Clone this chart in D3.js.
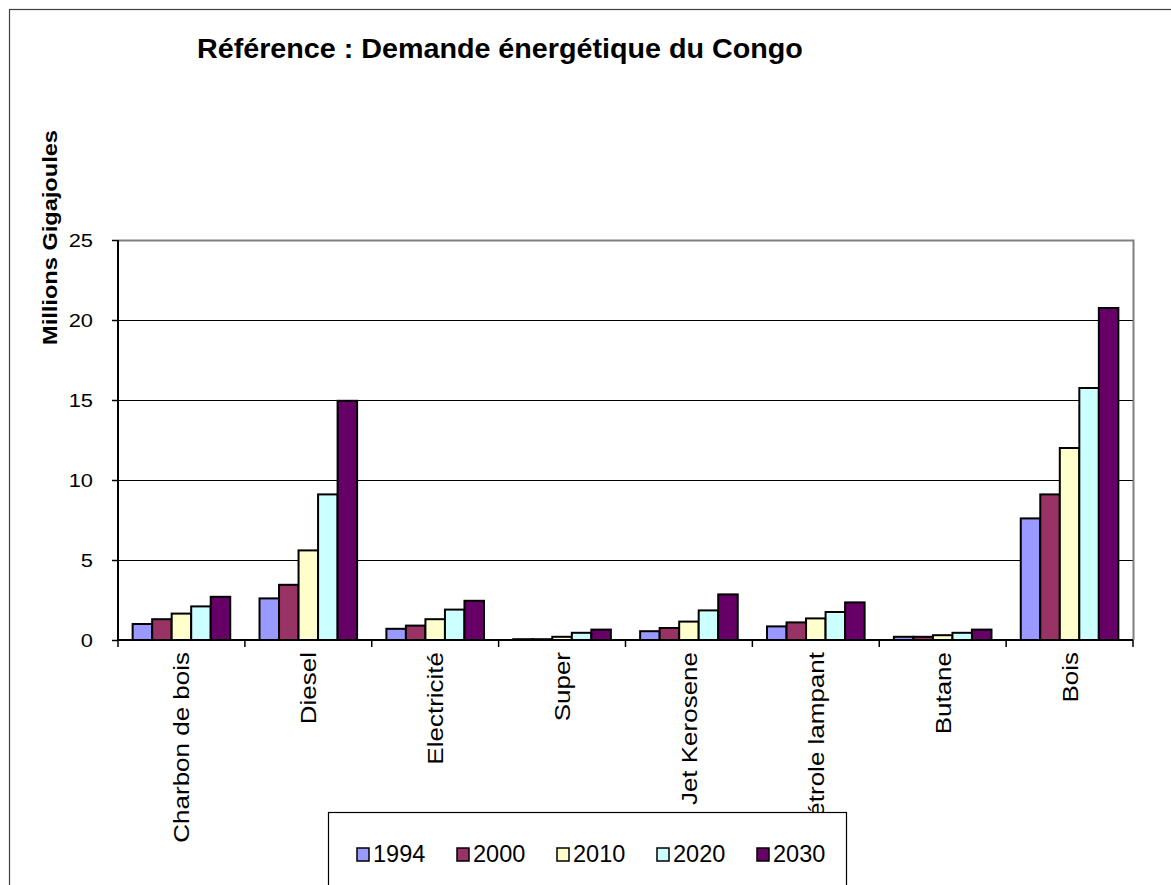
<!DOCTYPE html>
<html><head><meta charset="utf-8">
<script src="https://cdn.jsdelivr.net/npm/d3@7"></script>
<style>body{margin:0;background:#fff}svg{display:block;font-family:Arial,"Liberation Sans",sans-serif}</style>
</head><body>
<svg id="c" width="1171" height="885"></svg>
<script>
const categories = ["Charbon de bois","Diesel","Electricité","Super","Jet Kerosene","Pétrole lampant","Butane","Bois"];
const years = ["1994","2000","2010","2020","2030"];
const v1994 = [1.0, 2.6, 0.7, 0.05, 0.55, 0.85, 0.2, 7.6];
const v2000 = [1.3, 3.45, 0.9, 0.05, 0.75, 1.1, 0.2, 9.1];
const v2010 = [1.65, 5.6, 1.3, 0.2, 1.15, 1.35, 0.3, 12.0];
const v2020 = [2.1, 9.1, 1.9, 0.45, 1.85, 1.75, 0.45, 15.75];
const v2030 = [2.7, 14.95, 2.45, 0.65, 2.85, 2.35, 0.65, 20.75];
const yTicks = [0,5,10,15,20,25];
const colors = ["#9999FF","#993366","#FFFFCC","#CCFFFF","#660066"];
const series = [v1994,v2000,v2010,v2020,v2030];
const title = "Référence : Demande énergétique du Congo";
const yTitle = "Millions Gigajoules";

const svg = d3.select("#c");
// outer chart border
svg.append("rect").attr("x",9.5).attr("y",9.5).attr("width",1200).attr("height",1000)
  .attr("fill","#fff").attr("stroke","#404040").attr("stroke-width",1.2);

const L=118, R=1133, T=240, B=640;
const x0 = d3.scaleBand().domain(categories).range([L,R]).paddingInner(0).paddingOuter(0);
const bw = x0.bandwidth()/6.5;
const x1 = d3.scaleBand().domain(years).range([bw*0.75, bw*0.75+bw*5]);
const y = d3.scaleLinear().domain([0,25]).range([B,T]);

// gridlines
svg.append("g").selectAll("line").data(yTicks.filter(d=>d>0)).join("line")
  .attr("x1",L).attr("x2",R).attr("y1",d=>y(d)+0.5).attr("y2",d=>y(d)+0.5)
  .attr("stroke","#000").attr("stroke-width",1);
// plot area border (gray)
svg.append("path").attr("d",`M${L},${T+0.5}H${R+0.5}V${B}`).attr("fill","none").attr("stroke","#808080").attr("stroke-width",2);

// bars
const g = svg.append("g");
categories.forEach((c,i)=>{
  series.forEach((s,j)=>{
    g.append("rect")
      .attr("x", x0(c)+x1(years[j]))
      .attr("y", y(s[i]))
      .attr("width", x1.bandwidth())
      .attr("height", B - y(s[i]))
      .attr("fill", colors[j]).attr("stroke","#000").attr("stroke-width",2);
  });
});

// y axis
const ya = d3.axisLeft(y).tickValues(yTicks).tickSize(6).tickPadding(0).tickFormat(d3.format("d"));
const yg = svg.append("g").attr("transform",`translate(${L},0)`).call(ya);
yg.select(".domain").attr("stroke","#000").attr("stroke-width",2).attr("d",`M-0,${T}V${B}`);
yg.selectAll(".tick line").attr("stroke","#000").attr("stroke-width",1.5);
yg.selectAll("text").attr("font-size",19).attr("fill","#000").attr("dy","0.36em").attr("x",0)
  .attr("transform","translate(-25,0) scale(1.15,1)")
  .attr("font-family","Arial, 'Liberation Sans', sans-serif");

// x axis
const xa = d3.axisBottom(x0).tickSize(0).tickFormat("");
const xg = svg.append("g").attr("transform",`translate(0,${B})`).call(xa);
xg.select(".domain").attr("stroke","#000").attr("stroke-width",2).attr("d",`M${L},0H${R}`);
xg.selectAll(".tick").remove();
const edges = categories.map(c=>x0(c)).concat([R]);
svg.append("g").selectAll("line").data(edges).join("line")
  .attr("x1",d=>d).attr("x2",d=>d).attr("y1",B).attr("y2",B+7).attr("stroke","#000").attr("stroke-width",1.5);

// category labels
svg.append("g").selectAll("text").data(categories).join("text")
  .attr("transform",d=>`translate(${x0(d)+x0.bandwidth()/2+8},${B+12}) rotate(-90) scale(1.14,1)`)
  .attr("text-anchor","end").attr("font-size",22.8).attr("fill","#000").text(d=>d);

// title
const tt = svg.append("text").attr("text-anchor","start")
  .attr("font-size",28).attr("font-weight","bold").text(title);
const tl = tt.node().getComputedTextLength();
tt.attr("transform",`translate(197,58) scale(${606/tl},1)`);
// y title
const yt = svg.append("text").attr("text-anchor","middle")
  .attr("font-size",21).attr("font-weight","bold").text(yTitle);
const yl = yt.node().getComputedTextLength();
yt.attr("transform",`translate(57,237.5) rotate(-90) scale(${215/yl},1)`);

// legend
const lg = svg.append("g");
lg.append("rect").attr("x",328.5).attr("y",812.5).attr("width",518).attr("height",120)
  .attr("fill","#fff").attr("stroke","#000").attr("stroke-width",1.2);
const lx = [357,457,557,657,757];
years.forEach((yr,j)=>{
  lg.append("rect").attr("x",lx[j]).attr("y",848).attr("width",12).attr("height",13)
    .attr("fill",colors[j]).attr("stroke","#000").attr("stroke-width",1.5);
  lg.append("text").attr("x",lx[j]+16).attr("y",862).attr("font-size",23.5).text(yr);
});
</script>
</body></html>
